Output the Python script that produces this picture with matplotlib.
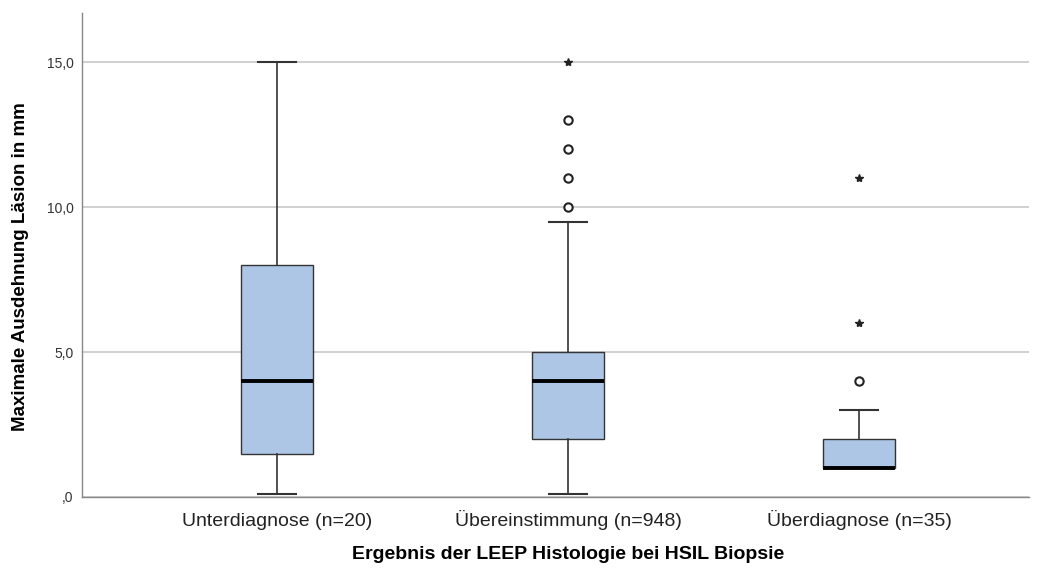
import matplotlib.pyplot as plt

# SPSS boxplot summary values
categories = ['Unterdiagnose (n=20)', 'Übereinstimmung (n=948)', 'Überdiagnose (n=35)']
q1 = [1.5, 2.0, 1.0]
median = [4.0, 4.0, 1.0]
q3 = [8.0, 5.0, 2.0]
whisker_low = [0.1, 0.1, 1.0]
whisker_high = [15.0, 9.5, 3.0]
# outliers (circles) and extreme values (stars)
outliers = [[], [10.0, 11.0, 12.0, 13.0], [4.0]]
extremes = [[], [15.0], [6.0, 11.0]]

plt.rcParams['font.family'] = ['Liberation Sans', 'DejaVu Sans']

fig = plt.figure(figsize=(10.41, 5.68), dpi=100)
ax = fig.add_axes([0.0788, 0.125, 0.9097, 0.852])

stats = []
for i in range(len(categories)):
    stats.append({'med': median[i], 'q1': q1[i], 'q3': q3[i],
                  'whislo': whisker_low[i], 'whishi': whisker_high[i],
                  'fliers': []})

positions = [1, 2, 3]
ax.bxp(stats, positions=positions, widths=0.25, patch_artist=True,
       showfliers=False,
       boxprops=dict(facecolor='#adc6e6', edgecolor='#333333', linewidth=1.0),
       medianprops=dict(color='black', linewidth=2.8),
       whiskerprops=dict(color='#333333', linewidth=1.2),
       capprops=dict(color='#333333', linewidth=1.5),
       capwidths=0.13, zorder=3)

for p, vals in zip(positions, outliers):
    if vals:
        ax.plot([p] * len(vals), vals, 'o', mfc='white', mec='#222222',
                ms=6, mew=1.5, zorder=4)
for p, vals in zip(positions, extremes):
    if vals:
        ax.plot([p] * len(vals), vals, '*', color='#222222', ms=6, zorder=4)

ax.set_xlim(0.33, 3.584)
ax.set_ylim(0, 16.69)
ax.set_yticks([0, 5, 10, 15])
ax.set_yticklabels([',0', '5,0', '10,0', '15,0'], fontsize=10, color='#333333')
ax.set_xticks(positions)
ax.set_xticklabels(categories, fontsize=14, color='#222222', va='baseline')
ax.tick_params(axis='y', length=0, pad=6)
ax.tick_params(axis='x', length=0, pad=21)
ax.yaxis.grid(True, color='#c8c8c8', linewidth=1.2, zorder=0)
ax.set_axisbelow(True)

for s in ['top', 'right']:
    ax.spines[s].set_visible(False)
for s in ['left', 'bottom']:
    ax.spines[s].set_color('#888888')
    ax.spines[s].set_linewidth(1.0)

ax.set_ylabel('Maximale Ausdehnung Läsion in mm', fontsize=13.5,
              fontweight='bold', va='center')
ax.yaxis.set_label_coords(-0.0655, 0.477)
ax.set_xlabel('Ergebnis der LEEP Histologie bei HSIL Biopsie', fontsize=14,
              fontweight='bold', va='baseline')
ax.xaxis.set_label_coords(0.513, -0.128)

fig.savefig('out.png', dpi=100)
